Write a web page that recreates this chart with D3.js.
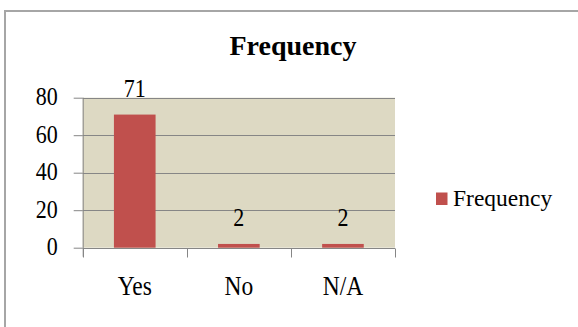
<!DOCTYPE html>
<html>
<head>
<meta charset="utf-8">
<script src="https://cdn.jsdelivr.net/npm/d3@7"></script>
<style>
  html, body { margin: 0; padding: 0; background: #fff; }
  svg { display: block; }
</style>
</head>
<body>
<svg id="chart" width="578" height="327"></svg>
<script>
// Survey answers and their counts
const categories = ["Yes", "No", "N/A"];
const frequency = [71, 2, 2];
const yTicks = [0, 20, 40, 60, 80];
const seriesName = "Frequency";
const chartTitle = "Frequency";

const W = 578, H = 327;
const plot = { left: 82.7, right: 395, top: 97.7, bottom: 247.7 };
const barColor = "#c0504d";
const plotFill = "#ddd9c3";
const lineColor = "#868686";
const serif = "'Liberation Serif', 'Times New Roman', 'DejaVu Serif', serif";
const tall = 1.15; // labels are drawn slightly taller than wide

const svg = d3.select("#chart");

// Chart frame (runs past the right and bottom edges)
svg.append("rect")
  .attr("x", 5).attr("y", 11)
  .attr("width", W + 20).attr("height", H + 20)
  .attr("fill", "#fff")
  .attr("stroke", "#a6a6a6").attr("stroke-width", 2);

const x = d3.scaleBand()
  .domain(categories)
  .range([plot.left, plot.right])
  .paddingInner(0.6)
  .paddingOuter(0.3);

const y = d3.scaleLinear()
  .domain([0, 80])
  .range([plot.bottom, plot.top]);

// Plot area background
svg.append("rect")
  .attr("x", plot.left).attr("y", plot.top)
  .attr("width", plot.right - plot.left)
  .attr("height", plot.bottom - plot.top)
  .attr("fill", plotFill);

// Horizontal gridlines
svg.append("g")
  .selectAll("line")
  .data(yTicks.filter(t => t > 0))
  .join("line")
  .attr("x1", plot.left).attr("x2", plot.right)
  .attr("y1", d => Math.round(y(d)) + 0.5)
  .attr("y2", d => Math.round(y(d)) + 0.5)
  .attr("stroke", lineColor).attr("stroke-width", 1);

// Bars
const rows = categories.map((c, i) => ({ c, v: frequency[i] }));
svg.append("g")
  .selectAll("rect")
  .data(rows)
  .join("rect")
  .attr("x", d => x(d.c))
  .attr("width", x.bandwidth())
  .attr("y", d => y(d.v))
  .attr("height", d => y(0) - y(d.v))
  .attr("fill", barColor);

// Value labels above bars
svg.append("g")
  .selectAll("text")
  .data(rows)
  .join("text")
  .attr("transform", d => `translate(${x(d.c) + x.bandwidth() / 2},${y(d.v) - 18}) scale(1,${tall})`)
  .attr("text-anchor", "middle")
  .style("font-family", serif)
  .style("font-size", "22px")
  .text(d => d.v);

// Y axis
const yAxis = svg.append("g")
  .attr("transform", `translate(${plot.left},0)`)
  .call(d3.axisLeft(y).tickValues(yTicks).tickSize(9).tickPadding(16).tickFormat(d3.format("d")));
yAxis.attr("font-family", null).attr("font-size", null);
yAxis.select(".domain").attr("stroke", lineColor).attr("d", `M0.5,${plot.top}V${plot.bottom + 9}`);
yAxis.selectAll(".tick line").attr("stroke", lineColor);
yAxis.selectAll(".tick text")
  .attr("x", null)
  .attr("dy", null)
  .attr("transform", `translate(-25,6.8) scale(1,${tall})`)
  .style("font-family", serif)
  .style("font-size", "22px");

// X axis
const xAxis = svg.append("g")
  .attr("transform", `translate(0,${Math.round(plot.bottom) + 0.5})`)
  .call(d3.axisBottom(x).tickSize(0));
xAxis.attr("font-family", null).attr("font-size", null);
xAxis.select(".domain").attr("stroke", lineColor).attr("d", `M${plot.left},0H${plot.right}`);
xAxis.selectAll(".tick text")
  .attr("y", null)
  .attr("dy", null)
  .attr("transform", `translate(0,46.5) scale(1,${tall})`)
  .style("font-family", serif)
  .style("font-size", "23.5px");

// Category boundary ticks below the x axis
const bounds = categories.map(c => x(c) - x.step() * x.paddingOuter()).concat([plot.right]);
xAxis.append("g")
  .selectAll("line")
  .data(bounds)
  .join("line")
  .attr("x1", d => Math.round(d) + 0.5).attr("x2", d => Math.round(d) + 0.5)
  .attr("y1", 0).attr("y2", 9)
  .attr("stroke", lineColor);

// Title
svg.append("text")
  .attr("x", 293).attr("y", 55)
  .attr("text-anchor", "middle")
  .style("font-family", serif)
  .style("font-size", "28px")
  .style("font-weight", "bold")
  .text(chartTitle);

// Legend
const legend = svg.append("g");
legend.append("rect")
  .attr("x", 436).attr("y", 192.5)
  .attr("width", 11.5).attr("height", 12.5)
  .attr("fill", barColor);
legend.append("text")
  .attr("x", 453).attr("y", 205.5)
  .style("font-family", serif)
  .style("font-size", "23.5px")
  .text(seriesName);
</script>
</body>
</html>
